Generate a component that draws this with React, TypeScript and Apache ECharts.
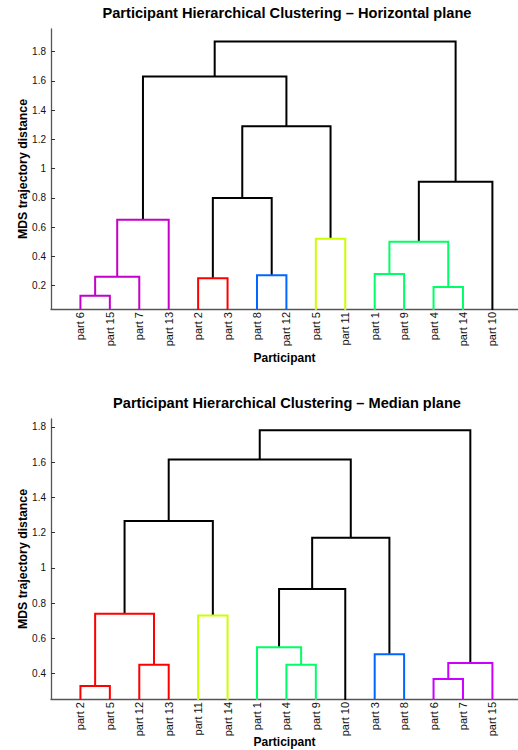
import React, { useEffect, useRef } from "react";
import * as echarts from "echarts";

// ---- Horizontal plane dendrogram ----
const topLeaves = ["part 6", "part 15", "part 7", "part 13", "part 2", "part 3", "part 8", "part 12", "part 5", "part 11", "part 1", "part 9", "part 4", "part 14", "part 10"];
// link k creates node 15+k from children (left, right) at height
const topLeft = [0, 15, 16, 4, 6, 18, 8, 20, 17, 10, 12, 24, 26, 23];
const topRight = [1, 2, 3, 5, 7, 19, 9, 21, 22, 11, 13, 25, 14, 27];
const topHeights = [0.13, 0.26, 0.65, 0.25, 0.27, 0.8, 0.52, 1.29, 1.63, 0.28, 0.19, 0.5, 0.91, 1.87];
const topColors = ["#c400cc", "#c400cc", "#c400cc", "#ff0000", "#0066ff", "#000000", "#ccff00", "#000000", "#000000", "#00ff66", "#00ff66", "#00ff66", "#000000", "#000000"];

// ---- Median plane dendrogram ----
const bottomLeaves = ["part 2", "part 5", "part 12", "part 13", "part 11", "part 14", "part 1", "part 4", "part 9", "part 10", "part 3", "part 8", "part 6", "part 7", "part 15"];
const bottomLeft = [0, 2, 15, 4, 17, 7, 6, 21, 10, 22, 19, 12, 26, 25];
const bottomRight = [1, 3, 16, 5, 18, 8, 20, 9, 11, 23, 24, 13, 14, 27];
const bottomHeights = [0.33, 0.45, 0.74, 0.73, 1.265, 0.45, 0.55, 0.88, 0.51, 1.17, 1.615, 0.37, 0.46, 1.78];
const bottomColors = ["#ff0000", "#ff0000", "#ff0000", "#ccff00", "#000000", "#00ff66", "#00ff66", "#000000", "#0066ff", "#000000", "#000000", "#cc00ff", "#cc00ff", "#000000"];

const yTicks = [0.2, 0.4, 0.6, 0.8, 1, 1.2, 1.4, 1.6, 1.8];

const FONT = "'Liberation Sans', Arial, Helvetica, sans-serif";

function buildSeries(
  leaves: string[],
  left: number[],
  right: number[],
  heights: number[],
  colors: string[],
  axisIndex: number
) {
  const xs: number[] = leaves.map((_, i) => i + 1);
  const ys: number[] = leaves.map(() => 0);
  const series: any[] = [];
  for (let k = 0; k < heights.length; k++) {
    const a = left[k];
    const b = right[k];
    const h = heights[k];
    xs.push((xs[a] + xs[b]) / 2);
    ys.push(h);
    series.push({
      type: "line",
      xAxisIndex: axisIndex,
      yAxisIndex: axisIndex,
      data: [
        [xs[a], ys[a]],
        [xs[a], h],
        [xs[b], h],
        [xs[b], ys[b]],
      ],
      symbol: "none",
      clip: true,
      silent: true,
      lineStyle: { color: colors[k], width: 2, join: "miter", cap: "butt" },
      z: colors[k] === "#000000" ? 2 : 3,
    });
  }
  return series;
}

function xAxisFor(leaves: string[], gridIndex: number, nameGap: number) {
  return {
    type: "value",
    gridIndex,
    min: 0,
    max: 15.87,
    name: "Participant",
    nameLocation: "middle",
    nameGap,
    nameMoveOverlap: false,
    nameTextStyle: { fontFamily: FONT, fontWeight: "bold", fontSize: 12, color: "#000" },
    axisLine: { show: true, lineStyle: { color: "#555", width: 1.3 } },
    axisTick: { show: false },
    splitLine: { show: false },
    axisLabel: {
      customValues: leaves.map((_, i) => i + 1),
      formatter: (v: number) => leaves[Math.round(v) - 1] || "",
      rotate: 90,
      margin: 3,
      fontFamily: FONT,
      fontSize: 11,
      color: "#111",
    },
  };
}

function yAxisFor(gridIndex: number, min: number, max: number) {
  return {
    type: "value",
    gridIndex,
    min,
    max,
    name: "MDS trajectory distance",
    nameLocation: "middle",
    nameGap: 22.5,
    nameMoveOverlap: false,
    nameRotate: 90,
    nameTextStyle: { fontFamily: FONT, fontWeight: "bold", fontSize: 12.3, color: "#000" },
    axisLine: { show: true, lineStyle: { color: "#555", width: 1.3 } },
    axisTick: { show: true, inside: true, length: 4, customValues: yTicks, lineStyle: { color: "#333" } },
    splitLine: { show: false },
    axisLabel: {
      customValues: yTicks,
      margin: 5,
      fontFamily: FONT,
      fontSize: 10,
      color: "#111",
    },
  };
}

export default function App() {
  const ref = useRef<HTMLDivElement>(null);
  useEffect(() => {
    if (!ref.current) return;
    const chart = echarts.init(ref.current, undefined, { renderer: "svg" });
    chart.setOption({
      animation: false,
      backgroundColor: "#ffffff",
      title: [
        {
          text: "Participant Hierarchical Clustering \u2013 Horizontal plane",
          left: 287,
          top: 5,
          textAlign: "center",
          padding: 0,
          textStyle: { fontFamily: FONT, fontWeight: "bold", fontSize: 14.6, color: "#000" },
        },
        {
          text: "Participant Hierarchical Clustering \u2013 Median plane",
          left: 287,
          top: 395,
          textAlign: "center",
          padding: 0,
          textStyle: { fontFamily: FONT, fontWeight: "bold", fontSize: 14.6, color: "#000" },
        },
      ],
      grid: [
        { left: 51, top: 29, width: 467, height: 280 },
        { left: 51, top: 419, width: 467, height: 280 },
      ],
      xAxis: [xAxisFor(topLeaves, 0, 43), xAxisFor(bottomLeaves, 1, 37)],
      yAxis: [yAxisFor(0, 0.04, 1.955), yAxisFor(1, 0.256, 1.844)],
      series: [
        ...buildSeries(topLeaves, topLeft, topRight, topHeights, topColors, 0),
        ...buildSeries(bottomLeaves, bottomLeft, bottomRight, bottomHeights, bottomColors, 1),
      ],
    });
    return () => chart.dispose();
  }, []);
  return (
    <div
      ref={ref}
      style={{ position: "absolute", left: 0, top: 0, width: 518, height: 750, background: "#fff" }}
    />
  );
}
